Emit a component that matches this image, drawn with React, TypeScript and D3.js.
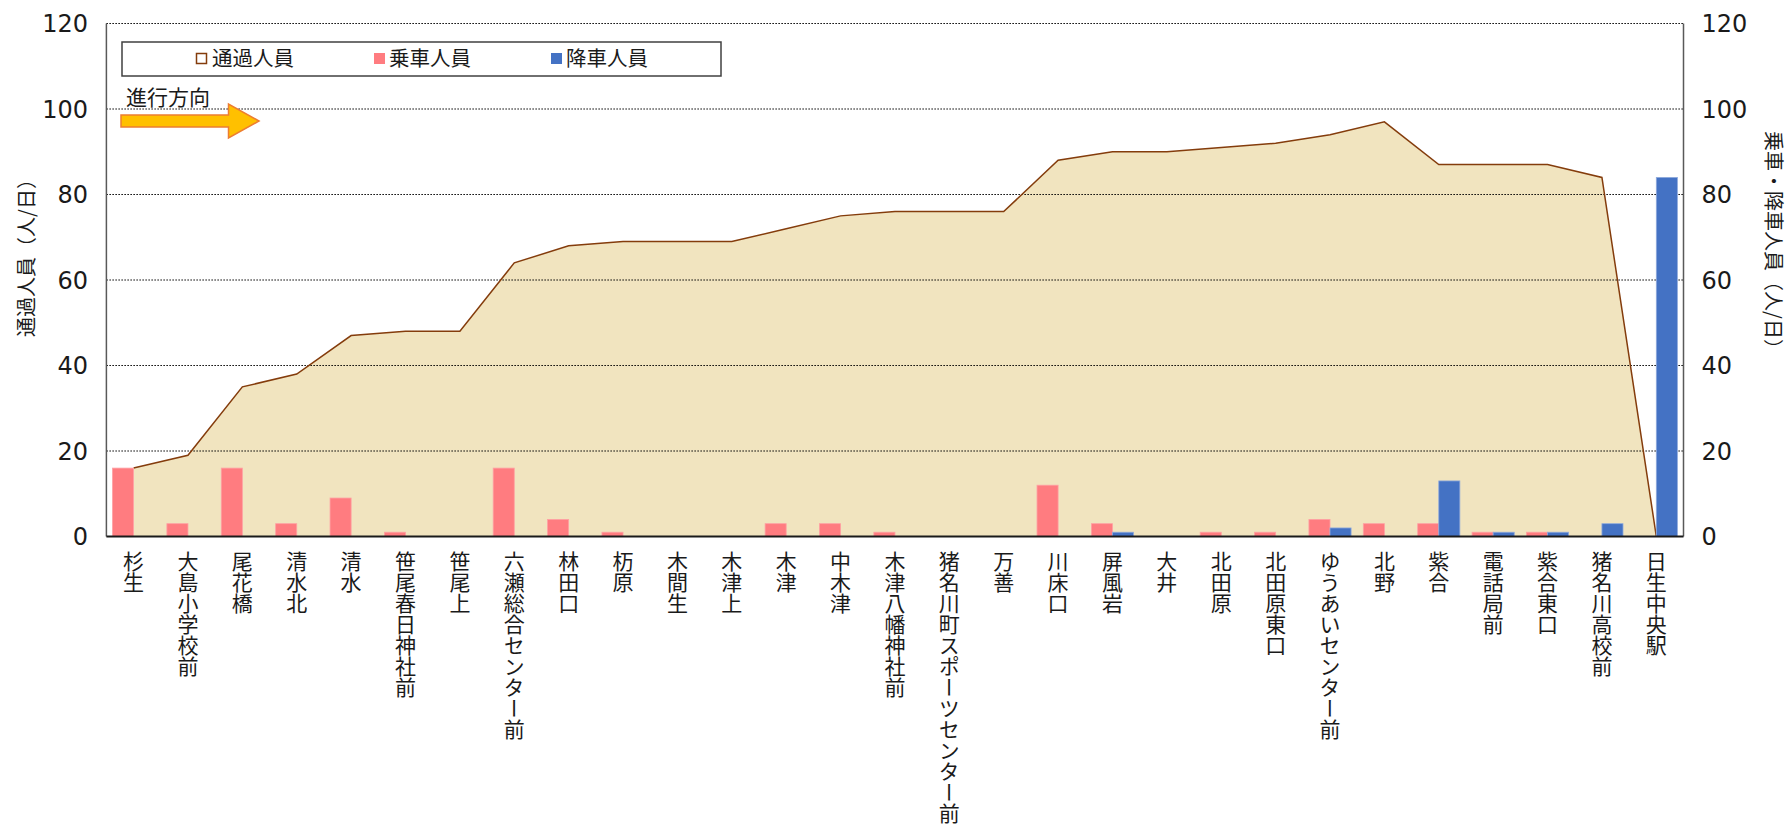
import React from "react";
import * as d3 from "d3";

const stops: string[] = [
  "杉生", "大島小学校前", "尾花橋", "清水北", "清水", "笹尾春日神社前", "笹尾上",
  "六瀬総合センター前", "林田口", "杤原", "木間生", "木津上", "木津", "中木津",
  "木津八幡神社前", "猪名川町スポーツセンター前", "万善", "川床口", "屏風岩", "大井",
  "北田原", "北田原東口", "ゆうあいセンター前", "北野", "紫合", "電話局前", "紫合東口",
  "猪名川高校前", "日生中央駅",
];
const passing: number[] = [16, 19, 35, 38, 47, 48, 48, 64, 68, 69, 69, 69, 72, 75, 76, 76, 76, 88, 90, 90, 91, 92, 94, 97, 87, 87, 87, 84, 0];
const boarding: number[] = [16, 3, 16, 3, 9, 1, 0, 16, 4, 1, 0, 0, 3, 3, 1, 0, 0, 12, 3, 0, 1, 1, 4, 3, 3, 1, 1, 0, 0];
const alighting: number[] = [0, 0, 0, 0, 0, 0, 0, 0, 0, 0, 0, 0, 0, 0, 0, 0, 0, 0, 1, 0, 0, 0, 2, 0, 13, 1, 1, 3, 84];
const yTicks: number[] = [0, 20, 40, 60, 80, 100, 120];
const seriesNames: string[] = ["通過人員", "乗車人員", "降車人員"];

const W = 1789, H = 838;
const L = 106.4, R = 1683.5, T = 23.5, B = 536.5;
const CJK = "'Noto Sans CJK JP', sans-serif";
const NUM = "'DejaVu Sans', sans-serif";

export default function App() {
  const x = d3.scaleBand<string>().domain(stops).range([L, R]).paddingInner(0).paddingOuter(0);
  const xSub = d3.scaleBand<string>().domain(["b", "a"]).range([0, x.bandwidth()]).paddingInner(0).paddingOuter(0.29);
  const yL = d3.scaleLinear().domain([0, 120]).range([B, T]);
  const yR = d3.scaleLinear().domain([0, 120]).range([B, T]);
  const cx = (s: string) => (x(s) as number) + x.bandwidth() / 2;

  const pts = stops.map((s, i) => [cx(s), passing[i]] as [number, number]);
  const area = d3.area<[number, number]>().x(d => d[0]).y0(yL(0)).y1(d => yL(d[1]))(pts) as string;
  const line = d3.line<[number, number]>().x(d => d[0]).y(d => yL(d[1]))(pts) as string;

  return (
    <svg width={W} height={H} style={{ position: "absolute", left: 0, top: 0, background: "#fff" }}>
      {/* area */}
      <path d={area} fill="#F1E4BF" />
      {/* gridlines */}
      {yTicks.filter(t => t > 0).map(t => (
        <line key={t} x1={L} x2={R} y1={yL(t)} y2={yL(t)} stroke="#000" strokeWidth={1} strokeDasharray="1.5,1.5" />
      ))}
      <path d={line} fill="none" stroke="#843C0C" strokeWidth={1.5} />
      {/* bars */}
      {stops.map((s, i) => (
        <g key={s}>
          {boarding[i] > 0 && (
            <rect x={(x(s) as number) + (xSub("b") as number)} width={xSub.bandwidth()} y={yR(boarding[i])} height={yR(0) - yR(boarding[i])} fill="#FF7C80" stroke="#FFA0A3" strokeWidth={0.8} />
          )}
          {alighting[i] > 0 && (
            <rect x={(x(s) as number) + (xSub("a") as number)} width={xSub.bandwidth()} y={yR(alighting[i])} height={yR(0) - yR(alighting[i])} fill="#4472C4" stroke="#8FAADC" strokeWidth={0.8} />
          )}
        </g>
      ))}
      {/* axes */}
      <line x1={L} x2={L} y1={T} y2={B} stroke="#595959" strokeWidth={1.5} />
      <line x1={R} x2={R} y1={T} y2={B} stroke="#595959" strokeWidth={1.5} />
      <line x1={L} x2={R} y1={B} y2={B} stroke="#1a1a1a" strokeWidth={2} />
      {/* tick labels */}
      {yTicks.map(t => (
        <text key={"l" + t} x={88} y={yL(t)} dy="0.36em" textAnchor="end" fontFamily={NUM} fontSize={24} fill="#1a1a1a">{t}</text>
      ))}
      {yTicks.map(t => (
        <text key={"r" + t} x={1701.5} y={yR(t)} dy="0.36em" textAnchor="start" fontFamily={NUM} fontSize={24} fill="#1a1a1a">{t}</text>
      ))}
      {/* axis titles */}
      <text transform="translate(27,253) rotate(-90)" textAnchor="middle" dy="0.35em" fontFamily={CJK} fontSize={20} fill="#1a1a1a">通過人員（人/日）</text>
      <text transform="translate(1773,245) rotate(90)" textAnchor="middle" dy="0.35em" fontFamily={CJK} fontSize={20} fill="#1a1a1a">乗車・降車人員（人/日）</text>
      {/* category labels */}
      {stops.map(s => (
        <text key={"c" + s} x={cx(s)} y={551} fontFamily={CJK} fontSize={21} fill="#1a1a1a"
          style={{ writingMode: "vertical-rl", textOrientation: "upright" } as any}>{s}</text>
      ))}
      {/* legend */}
      <rect x={122} y={42} width={599} height={34} fill="#fff" stroke="#404040" strokeWidth={1.5} />
      <rect x={196.5} y={53.5} width={10} height={10} fill="#fff" stroke="#843C0C" strokeWidth={1.5} />
      <text x={212} y={66} fontFamily={CJK} fontSize={20.5} fill="#1a1a1a">{seriesNames[0]}</text>
      <rect x={374} y={53} width={11} height={11} fill="#FF7C80" />
      <text x={389} y={66} fontFamily={CJK} fontSize={20.5} fill="#1a1a1a">{seriesNames[1]}</text>
      <rect x={551} y={53} width={11} height={11} fill="#4472C4" />
      <text x={566} y={66} fontFamily={CJK} fontSize={20.5} fill="#1a1a1a">{seriesNames[2]}</text>
      {/* direction arrow */}
      <text x={126} y={105} fontFamily={CJK} fontSize={21} fill="#1a1a1a">進行方向</text>
      <polygon points="121,115 228.5,115 228.5,104 259,121 228.5,138 228.5,127 121,127" fill="#FFC000" stroke="#ED7D31" strokeWidth={1.5} />
    </svg>
  );
}
